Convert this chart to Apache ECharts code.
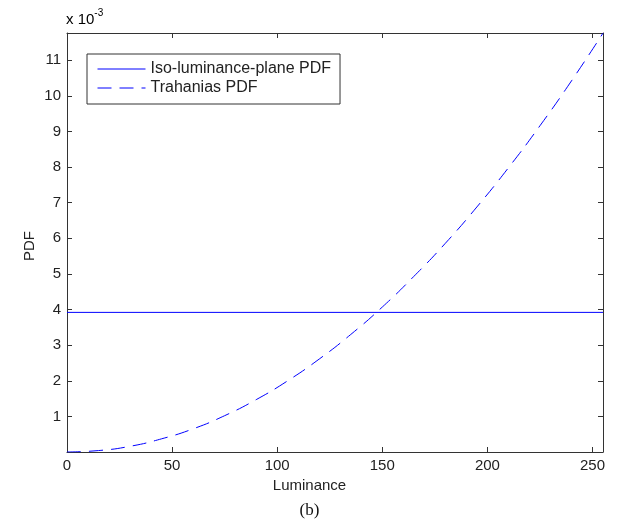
<!DOCTYPE html>
<html>
<head>
<meta charset="utf-8">
<script src="https://cdn.jsdelivr.net/npm/echarts@6/dist/echarts.min.js"></script>
<style>
  html, body { margin: 0; padding: 0; background: #fff; }
  #chart { width: 619px; height: 523px; }
</style>
</head>
<body>
<div id="chart"></div>
<script>
const lum = [0, 15, 30, 45, 60, 75, 90, 105, 120, 135, 150, 165, 180, 195, 210, 225, 240, 255]
// Trahanias PDF, in units of 1e-3
const trahanias = [0, 0.04, 0.16, 0.37, 0.65, 1.02, 1.47, 2.00, 2.61, 3.30, 4.07, 4.93, 5.86, 6.88, 7.98, 9.16, 10.42, 11.76]
// iso-luminance-plane PDF (flat)
const isoLum = [0, 255]
const isoVal = [3.92, 3.92]

const xTicks = [0, 50, 100, 150, 200, 250]
const yTicks = [1, 2, 3, 4, 5, 6, 7, 8, 9, 10, 11]

const font = 'Liberation Sans, Arial, Helvetica, sans-serif'
const axisCol = '#333'
const txtCol = '#222'

let myChart = echarts.init(document.getElementById('chart'))

function xAxisCfg(pos, labels) {
    return {
        type: 'value',
        position: pos,
        min: 0,
        max: 255,
        interval: 50,
        axisLine: { show: true, onZero: false, lineStyle: { color: axisCol, width: 1 } },
        axisTick: { show: true, inside: true, length: 5, lineStyle: { color: axisCol } },
        axisLabel: {
            show: labels, color: txtCol, fontFamily: font, fontSize: 15, margin: 6,
            showMaxLabel: false,
            formatter: v => xTicks.includes(v) ? String(v) : ''
        },
        splitLine: { show: false }
    }
}

function yAxisCfg(pos, labels) {
    return {
        type: 'value',
        position: pos,
        min: 0,
        max: 11.7647,
        interval: 1,
        axisLine: { show: true, onZero: false, lineStyle: { color: axisCol, width: 1 } },
        axisTick: { show: true, inside: true, length: 5, lineStyle: { color: axisCol } },
        axisLabel: {
            show: labels, color: txtCol, fontFamily: font, fontSize: 15, margin: 6,
            showMinLabel: false, showMaxLabel: false,
            formatter: v => yTicks.includes(Math.round(v)) ? String(Math.round(v)) : ''
        },
        splitLine: { show: false }
    }
}

let option = {
    animation: false,
    backgroundColor: '#fff',
    grid: { left: 67, right: 16, top: 33, bottom: 71, containLabel: false },
    xAxis: [xAxisCfg('bottom', true), xAxisCfg('top', false)],
    yAxis: [yAxisCfg('left', true), yAxisCfg('right', false)],
    legend: {
        show: true,
        left: 87,
        top: 54,
        orient: 'vertical',
        itemWidth: 48,
        itemHeight: 16,
        itemGap: 3,
        padding: [7, 9, 8, 10],
        borderColor: axisCol,
        borderWidth: 1,
        backgroundColor: '#fff',
        itemStyle: { opacity: 0 },
        lineStyle: { width: 1 },
        textStyle: { fontFamily: font, fontSize: 16, color: txtCol },
        data: ['Iso-luminance-plane PDF', 'Trahanias PDF']
    },
    series: [
        {
            name: 'Iso-luminance-plane PDF',
            type: 'line',
            data: isoLum.map((x, i) => [x, isoVal[i]]),
            symbol: 'none',
            color: '#0000ff',
            lineStyle: { color: '#0000ff', width: 1, type: 'solid' }
        },
        {
            name: 'Trahanias PDF',
            type: 'line',
            data: lum.map((x, i) => [x, trahanias[i]]),
            smooth: true,
            symbol: 'none',
            color: '#0000ff',
            lineStyle: { color: '#0000ff', width: 1, type: [14, 8] }
        }
    ],
    graphic: [
        {
            type: 'text', left: 66, top: 8,
            style: {
                text: '{a|x 10}{b|-3}',
                rich: {
                    a: { fontFamily: font, fontSize: 15, color: txtCol, verticalAlign: 'bottom' },
                    b: { fontFamily: font, fontSize: 10, color: txtCol, verticalAlign: 'top', padding: [0, 0, 9, 0] }
                }
            }
        },
        {
            type: 'text', left: 'center', top: 478,
            style: { text: 'Luminance', fontFamily: font, fontSize: 15, fill: txtCol }
        },
        {
            type: 'text', left: 'center', top: 502,
            style: { text: '(b)', fontFamily: 'Liberation Serif, Times New Roman, serif', fontSize: 17, fill: '#111' }
        },
        {
            type: 'text', left: 22, top: 231, rotation: Math.PI / 2,
            style: { text: 'PDF', fontFamily: font, fontSize: 15, fill: txtCol }
        }
    ]
}

myChart.setOption(option)
</script>
</body>
</html>
